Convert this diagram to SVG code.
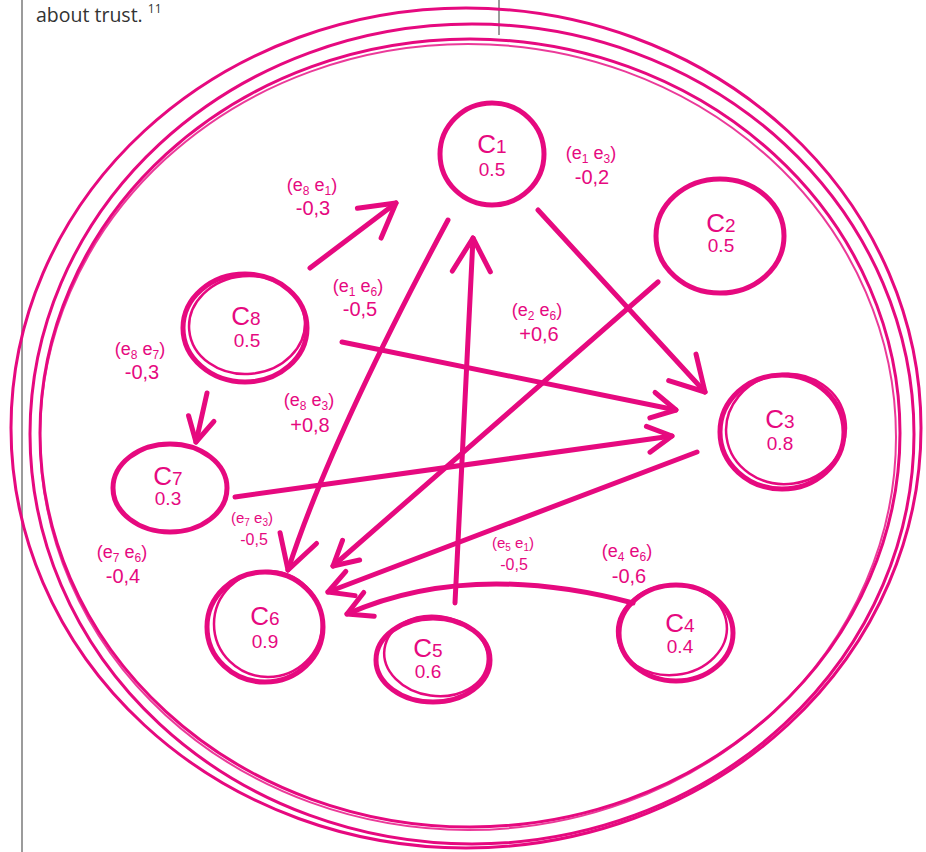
<svg xmlns="http://www.w3.org/2000/svg" width="926" height="852" viewBox="0 0 926 852">
<style>
.ring{fill:none;stroke:#E6097F;stroke-linecap:round}
.node{fill:none;stroke:#E6097F;stroke-width:5}
.node2{fill:none;stroke:#E6097F;stroke-width:2.5}
.edge{fill:none;stroke:#E6097F;stroke-width:5;stroke-linecap:round}
.nl{font-family:"Liberation Sans","DejaVu Sans",sans-serif;fill:#E6097F;text-anchor:middle}
.c{font-size:26px}
.cd{font-size:19px}
.v{font-size:19px}
.el{font-family:"Liberation Sans","DejaVu Sans",sans-serif;fill:#E6097F;font-size:18px;text-anchor:middle}
.ev{font-size:20px}
.s{font-size:12px}
.gray{stroke:#7a7a7a;stroke-width:1.5;fill:none}
</style>
<defs>
<marker id="big" viewBox="-45 -30 50 60" markerWidth="50" markerHeight="60" refX="0" refY="0" orient="auto" markerUnits="userSpaceOnUse" overflow="visible">
<path d="M-34,-19 L0,0 L-33,19" fill="none" stroke="#E6097F" stroke-width="5" stroke-linecap="round" stroke-linejoin="round"/>
</marker>
<marker id="med" viewBox="-45 -30 50 60" markerWidth="50" markerHeight="60" refX="0" refY="0" orient="auto" markerUnits="userSpaceOnUse" overflow="visible">
<path d="M-24,-13 L0,0 L-24,13" fill="none" stroke="#E6097F" stroke-width="5" stroke-linecap="round" stroke-linejoin="round"/>
</marker>
</defs>
<rect width="926" height="852" fill="#ffffff"/>
<g id="page">
<line class="gray" x1="22" y1="0" x2="22" y2="852"/>
<line class="gray" x1="499" y1="0" x2="499" y2="35"/>
<text x="36" y="22" font-family="'Open Sans','Liberation Sans',sans-serif" font-size="19.5" fill="#333333">about trust. <tspan font-size="12" dy="-9">11</tspan></text>
</g>
<g id="rings">
<ellipse class="ring" cx="466" cy="428" rx="455" ry="420" stroke-width="3"/>
<ellipse class="ring" cx="472" cy="434" rx="442" ry="410" stroke-width="3"/>
<ellipse class="ring" cx="470" cy="433" rx="430" ry="394" stroke-width="3"/>
<ellipse class="ring" cx="468" cy="437" rx="428" ry="393" stroke-width="2" opacity="0.8"/>
</g>
<g id="connectors">
<path class="edge" d="M310,268 L396,203" marker-end="url(#big)"/>
<path class="edge" d="M448,220 Q 330,440 288,570" marker-end="url(#big)"/>
<path class="edge" d="M455,603 L473,238" marker-end="url(#big)"/>
<path class="edge" d="M538,210 L705,392" marker-end="url(#big)"/>
<path class="edge" d="M658,282 L333,566" marker-end="url(#med)"/>
<path class="edge" d="M697,452 L328,592" marker-end="url(#med)"/>
<path class="edge" d="M633,603 Q 470,560 347,614" marker-end="url(#med)"/>
<path class="edge" d="M342,342 L676,410" marker-end="url(#med)"/>
<path class="edge" d="M235,497 L672,436" marker-end="url(#med)"/>
<path class="edge" d="M207,393 L196,442" marker-end="url(#med)"/>
</g>
<g id="edge-labels">
<text class="el" x="312" y="191">(e<tspan class="s" dy="4">8</tspan><tspan dy="-4"> e</tspan><tspan class="s" dy="4">1</tspan><tspan dy="-4">)</tspan></text>
<text class="el ev" x="313" y="215">-0,3</text>
<text class="el" x="591" y="159">(e<tspan class="s" dy="4">1</tspan><tspan dy="-4"> e</tspan><tspan class="s" dy="4">3</tspan><tspan dy="-4">)</tspan></text>
<text class="el ev" x="592" y="184">-0,2</text>
<text class="el" x="358" y="292">(e<tspan class="s" dy="4">1</tspan><tspan dy="-4"> e</tspan><tspan class="s" dy="4">6</tspan><tspan dy="-4">)</tspan></text>
<text class="el ev" x="360" y="316">-0,5</text>
<text class="el" x="537" y="316">(e<tspan class="s" dy="4">2</tspan><tspan dy="-4"> e</tspan><tspan class="s" dy="4">6</tspan><tspan dy="-4">)</tspan></text>
<text class="el ev" x="539" y="341">+0,6</text>
<text class="el" x="140" y="355">(e<tspan class="s" dy="4">8</tspan><tspan dy="-4"> e</tspan><tspan class="s" dy="4">7</tspan><tspan dy="-4">)</tspan></text>
<text class="el ev" x="142" y="379">-0,3</text>
<text class="el" x="309" y="406">(e<tspan class="s" dy="4">8</tspan><tspan dy="-4"> e</tspan><tspan class="s" dy="4">3</tspan><tspan dy="-4">)</tspan></text>
<text class="el ev" x="310" y="432">+0,8</text>
<text class="el" x="252" y="523" style="font-size:15px">(e<tspan class="s" dy="3" style="font-size:10px">7</tspan><tspan dy="-3"> e</tspan><tspan class="s" dy="3" style="font-size:10px">3</tspan><tspan dy="-3">)</tspan></text>
<text class="el" x="254" y="545" style="font-size:16px">-0,5</text>
<text class="el" x="122" y="558">(e<tspan class="s" dy="4">7</tspan><tspan dy="-4"> e</tspan><tspan class="s" dy="4">6</tspan><tspan dy="-4">)</tspan></text>
<text class="el ev" x="123" y="583">-0,4</text>
<text class="el" x="513" y="548" style="font-size:15px">(e<tspan class="s" dy="3" style="font-size:10px">5</tspan><tspan dy="-3"> e</tspan><tspan class="s" dy="3" style="font-size:10px">1</tspan><tspan dy="-3">)</tspan></text>
<text class="el" x="514" y="570" style="font-size:16px">-0,5</text>
<text class="el" x="627" y="557">(e<tspan class="s" dy="4">4</tspan><tspan dy="-4"> e</tspan><tspan class="s" dy="4">6</tspan><tspan dy="-4">)</tspan></text>
<text class="el ev" x="629" y="583">-0,6</text>
</g>
<g id="C1">
<ellipse class="node" cx="492" cy="154" rx="52" ry="51"/>
<text class="nl c" x="492" y="153">C<tspan class="cd">1</tspan></text>
<text class="nl v" x="492" y="176">0.5</text>
</g>
<g id="C2">
<ellipse class="node" cx="720" cy="236" rx="64" ry="57"/>
<text class="nl c" x="721" y="232">C<tspan class="cd">2</tspan></text>
<text class="nl v" x="721" y="252">0.5</text>
</g>
<g id="C3">
<ellipse class="node" cx="782" cy="432" rx="62" ry="57"/>
<ellipse class="node2" cx="786" cy="429" rx="60" ry="55" transform="rotate(-8 786 429)"/>
<text class="nl c" x="780" y="428">C<tspan class="cd">3</tspan></text>
<text class="nl v" x="780" y="450">0.8</text>
</g>
<g id="C4">
<ellipse class="node" cx="676" cy="633" rx="57" ry="48"/>
<ellipse class="node2" cx="672" cy="630" rx="55" ry="45" transform="rotate(-6 672 630)"/>
<text class="nl c" x="680" y="632">C<tspan class="cd">4</tspan></text>
<text class="nl v" x="680" y="653">0.4</text>
</g>
<g id="C5">
<ellipse class="node" cx="433" cy="660" rx="57" ry="42"/>
<ellipse class="node2" cx="436" cy="656" rx="52" ry="40" transform="rotate(8 436 656)"/>
<text class="nl c" x="428" y="657">C<tspan class="cd">5</tspan></text>
<text class="nl v" x="428" y="678">0.6</text>
</g>
<g id="C6">
<ellipse class="node" cx="265" cy="627" rx="58" ry="55"/>
<ellipse class="node2" cx="268" cy="624" rx="54" ry="53"/>
<text class="nl c" x="265" y="625">C<tspan class="cd">6</tspan></text>
<text class="nl v" x="265" y="648">0.9</text>
</g>
<g id="C7">
<ellipse class="node" cx="170" cy="488" rx="57" ry="44"/>
<text class="nl c" x="168" y="485">C<tspan class="cd">7</tspan></text>
<text class="nl v" x="168" y="505">0.3</text>
</g>
<g id="C8">
<ellipse class="node" cx="245" cy="328" rx="62" ry="54"/>
<ellipse class="node2" cx="247" cy="325" rx="58" ry="49" transform="rotate(-5 247 325)"/>
<text class="nl c" x="246" y="325">C<tspan class="cd">8</tspan></text>
<text class="nl v" x="247" y="347">0.5</text>
</g>
</svg>
